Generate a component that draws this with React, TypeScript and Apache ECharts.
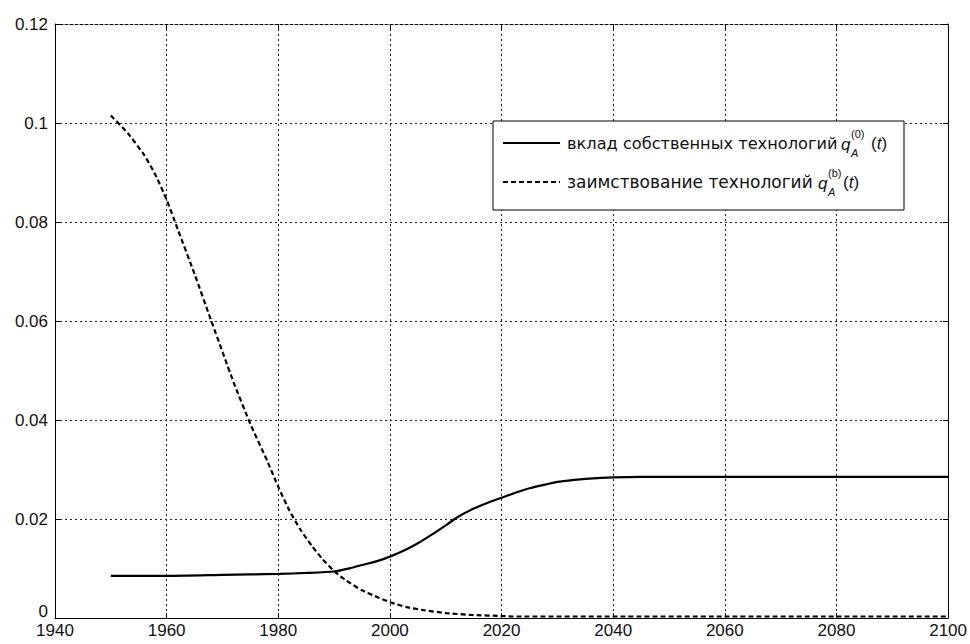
import React, { useEffect, useRef } from "react";
import * as echarts from "echarts";

const ownYears = [1950, 1960, 1970, 1975, 1980, 1985, 1990, 1993, 1995, 1998, 2000, 2003, 2005, 2008, 2010, 2012, 2015, 2018, 2020, 2023, 2025, 2028, 2030, 2033, 2035, 2040, 2045, 2060, 2080, 2100];
const ownValues = [0.0085, 0.0085, 0.0087, 0.0088, 0.0089, 0.0091, 0.0094, 0.0101, 0.0107, 0.0116, 0.0124, 0.0139, 0.0151, 0.0172, 0.0187, 0.0203, 0.0221, 0.0235, 0.0243, 0.0255, 0.0262, 0.0270, 0.0275, 0.0279, 0.0281, 0.0284, 0.0285, 0.0285, 0.0285, 0.0285];

const borrowYears = [1950, 1953, 1956, 1958, 1960, 1962, 1965, 1968, 1970, 1972, 1975, 1978, 1980, 1982, 1984, 1986, 1988, 1990, 1992, 1995, 1998, 2000, 2003, 2006, 2010, 2015, 2020, 2022, 2040, 2060, 2080, 2100];
const borrowValues = [0.1015, 0.098, 0.0935, 0.0895, 0.0845, 0.0785, 0.0695, 0.06, 0.0538, 0.0476, 0.0392, 0.0318, 0.0265, 0.0217, 0.0178, 0.0146, 0.0118, 0.0095, 0.0077, 0.0056, 0.0041, 0.0032, 0.0022, 0.0016, 0.001, 0.0006, 0.0004, 0.0003, 0.0003, 0.0003, 0.0003, 0.0003];

const seriesNames = ["вклад собственных технологий", "заимствование технологий"];

const FONT = "'Liberation Sans', Arial, sans-serif";
const LFONT = "'DejaVu Sans', sans-serif";

export default function App() {
  const ref = useRef<HTMLDivElement>(null);
  useEffect(() => {
    if (!ref.current) return;
    const chart = echarts.init(ref.current, null, { renderer: "svg" });
    const gridLine = { show: true, lineStyle: { color: "#222", type: [2, 3] as any, width: 1 } };
    const axisLabelStyle = { color: "#111", fontSize: 17, fontFamily: FONT };
    const lx = 493, ly = 121, lw = 411, lh = 89;
    const tRich = {
      n: { fontSize: 17, fontFamily: FONT, fill: "#111" },
      i: { fontSize: 17, fontFamily: FONT, fontStyle: "italic", fill: "#111" },
    };
    chart.setOption({
      animation: false,
      backgroundColor: "#fff",
      grid: { left: 55, right: 14, top: 24, bottom: 26 },
      xAxis: [
        {
          type: "value", min: 1940, max: 2100, interval: 20,
          axisLine: { show: true, onZero: false, lineStyle: { color: "#000", width: 1 } },
          axisTick: { show: true, inside: true, length: 5, lineStyle: { color: "#000" } },
          axisLabel: { ...axisLabelStyle, margin: 4, formatter: (v: number) => String(v) },
          splitLine: gridLine,
        },
        {
          type: "value", min: 1940, max: 2100, interval: 20, position: "top",
          axisLine: { show: true, onZero: false, lineStyle: { color: "#000", width: 1, type: [3, 2] as any } },
          axisTick: { show: true, inside: true, length: 5, lineStyle: { color: "#000" } },
          axisLabel: { show: false },
          splitLine: { show: false },
        },
      ],
      yAxis: [
        {
          type: "value", min: 0, max: 0.12, interval: 0.02,
          axisLine: { show: true, onZero: false, lineStyle: { color: "#000", width: 1 } },
          axisTick: { show: true, inside: true, length: 5, lineStyle: { color: "#000" } },
          axisLabel: {
            ...axisLabelStyle, margin: 7,
            formatter: (v: number) => (v === 0 ? "{z|0}" : String(Math.round(v * 100) / 100)),
            rich: { z: { fontSize: 17, fontFamily: FONT, color: "#111", padding: [0, 0, 14, 0] } },
          },
          splitLine: gridLine,
        },
        {
          type: "value", min: 0, max: 0.12, interval: 0.02, position: "right",
          axisLine: { show: true, onZero: false, lineStyle: { color: "#000", width: 1 } },
          axisTick: { show: true, inside: true, length: 5, lineStyle: { color: "#000" } },
          axisLabel: { show: false },
          splitLine: { show: false },
        },
      ],
      legend: { show: false },
      series: [
        {
          name: seriesNames[0], type: "line", showSymbol: false, symbol: "none",
          data: ownYears.map((y, i) => [y, ownValues[i]]),
          lineStyle: { color: "#000", width: 2.2, type: "solid" },
          smooth: 0.2,
        },
        {
          name: seriesNames[1], type: "line", showSymbol: false, symbol: "none",
          data: borrowYears.map((y, i) => [y, borrowValues[i]]),
          lineStyle: { color: "#000", width: 2.2, type: [5, 3] as any },
          smooth: 0.2,
        },
      ],
      graphic: [
        { type: "rect", shape: { x: lx, y: ly, width: lw, height: lh }, style: { fill: "#fff", stroke: "#000", lineWidth: 1 }, z: 100 },
        { type: "line", shape: { x1: 503, y1: 143, x2: 560, y2: 143 }, style: { stroke: "#000", lineWidth: 2.2 }, z: 101 },
        { type: "line", shape: { x1: 503, y1: 182, x2: 560, y2: 182 }, style: { stroke: "#000", lineWidth: 2.2, lineDash: [5, 3] }, z: 101 },
        { type: "text", x: 567, y: 143, style: { text: seriesNames[0], font: `16.2px ${LFONT}`, fill: "#111", verticalAlign: "middle" }, z: 101 },
        { type: "text", x: 841, y: 144, style: { text: "q", font: `italic 17px ${FONT}`, fill: "#111", verticalAlign: "middle" }, z: 101 },
        { type: "text", x: 851, y: 134, style: { text: "(0)", font: `11px ${FONT}`, fill: "#111", verticalAlign: "middle" }, z: 101 },
        { type: "text", x: 851, y: 153, style: { text: "A", font: `italic 11px ${FONT}`, fill: "#111", verticalAlign: "middle" }, z: 101 },
        { type: "text", x: 871, y: 143, style: { text: "{n|(}{i|t}{n|)}", rich: tRich, verticalAlign: "middle" }, z: 101 },
        { type: "text", x: 567, y: 182, style: { text: seriesNames[1], font: `17px ${LFONT}`, fill: "#111", verticalAlign: "middle" }, z: 101 },
        { type: "text", x: 818, y: 183, style: { text: "q", font: `italic 17px ${FONT}`, fill: "#111", verticalAlign: "middle" }, z: 101 },
        { type: "text", x: 828, y: 173, style: { text: "(b)", font: `11px ${FONT}`, fill: "#111", verticalAlign: "middle" }, z: 101 },
        { type: "text", x: 828, y: 192, style: { text: "A", font: `italic 11px ${FONT}`, fill: "#111", verticalAlign: "middle" }, z: 101 },
        { type: "text", x: 843, y: 182, style: { text: "{n|(}{i|t}{n|)}", rich: tRich, verticalAlign: "middle" }, z: 101 },
      ],
    });
    return () => chart.dispose();
  }, []);
  return <div ref={ref} style={{ width: 970, height: 644, position: "absolute", left: 0, top: 0 }} />;
}
